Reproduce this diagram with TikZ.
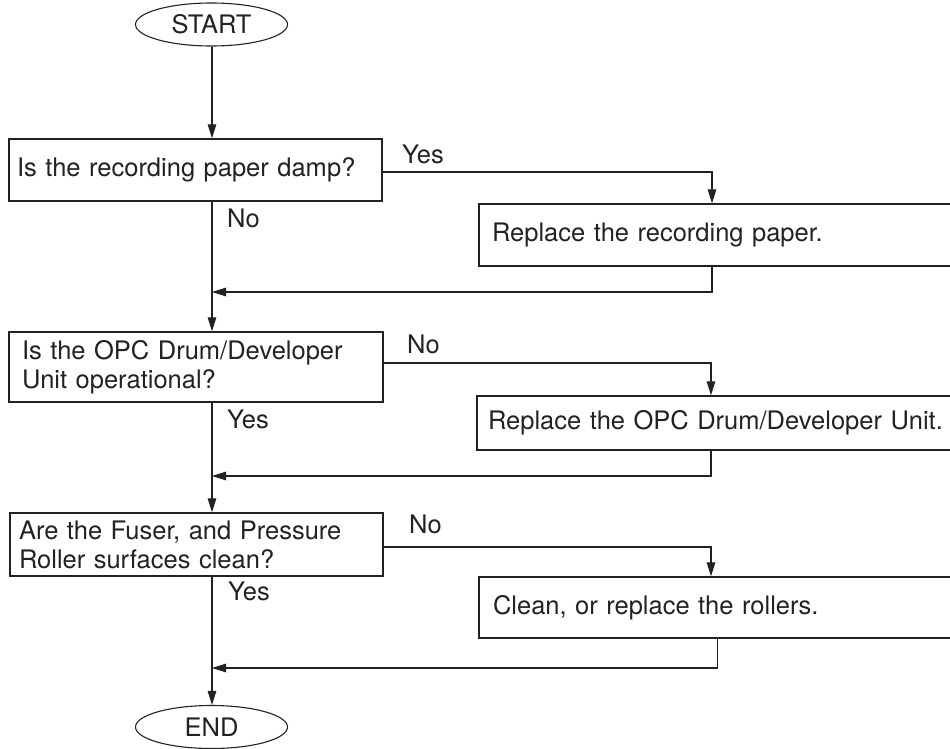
\documentclass[tikz,border=0pt]{standalone}
\usepackage{fontspec}
\setmainfont{TeX Gyre Heros}
\usetikzlibrary{shapes.geometric,arrows.meta}
\definecolor{lc}{RGB}{35,33,33}
\begin{document}
\begin{tikzpicture}[x=1pt,y=-1pt,
  every node/.style={font=\fontsize{25.5}{29}\selectfont, text=lc},
  term/.style={draw=lc, line width=1.1pt, ellipse, minimum width=152pt, minimum height=43pt, inner sep=0pt},
  qbox/.style={draw=lc, line width=1.3pt, rectangle, inner ysep=0pt, align=left},
  lbl/.style={anchor=base west, inner sep=0pt},
  conn/.style={draw=lc, line width=1.2pt},
  arr/.style={conn, -{Triangle[length=14pt,width=8.5pt]}}]
\clip (0,0) rectangle (950,749);

\node[term] (start) at (211.5,24.5) {START};
\node[qbox, minimum width=373pt, minimum height=62pt, text width=357pt, inner xsep=8pt] (b1) at (195.5,170) {Is the recording paper damp?};
\node[qbox, minimum width=521pt, minimum height=62pt, text width=495pt, inner xsep=13pt] (b2) at (739.5,235) {Replace the recording paper.};
\node[qbox, minimum width=374pt, minimum height=70pt, text width=348pt, inner xsep=13pt] (b3) at (196,367) {Is the OPC Drum/Developer\\Unit operational?};
\node[qbox, minimum width=523pt, minimum height=54pt, text width=501pt, inner xsep=11pt] (b4) at (738.5,423) {Replace the OPC Drum/Developer Unit.};
\node[qbox, minimum width=373pt, minimum height=63pt, text width=355pt, inner xsep=9pt] (b5) at (196.5,544.5) {Are the Fuser, and Pressure\\Roller surfaces clean?};
\node[qbox, minimum width=521pt, minimum height=61pt, text width=493pt, inner xsep=14pt] (b6) at (739.5,607.5) {Clean, or replace the rollers.};
\node[term] (e) at (211.5,727) {END};

\coordinate (k1) at (712,172);
\coordinate (j1) at (212,292);
\coordinate (k2) at (711,363);
\coordinate (j2) at (212,476);
\coordinate (k3) at (711,547);
\coordinate (r3) at (717.5,638);
\coordinate (j3) at (212,668);

\draw[arr] (start.south -| j1) -- (j1 |- b1.north);
\draw[arr] (j1 |- b1.south) -- (j1 |- b3.north);
\draw[arr] (j2 |- b3.south) -- (j2 |- b5.north);
\draw[arr] (j3 |- b5.south) -- (j3 |- e.north);

\draw[arr] (b1.east |- k1) -- (k1) -- (k1 |- b2.north);
\draw[arr] (k1 |- b2.south) |- (j1);
\draw[arr] (b3.east |- k2) -- (k2) -- (k2 |- b4.north);
\draw[arr] (k2 |- b4.south) |- (j2);
\draw[arr] (b5.east |- k3) -- (k3) -- (k3 |- b6.north);
\draw[arr] (r3 |- b6.south) |- (j3);

\node[lbl] (y1) at (402,163) {Yes};
\node[lbl] (n1) at (227,227) {No};
\node[lbl] (n2) at (407,353) {No};
\node[lbl] (y2) at (227,428) {Yes};
\node[lbl] (n3) at (409,533) {No};
\node[lbl] (y3) at (228,600) {Yes};
\end{tikzpicture}
\end{document}
